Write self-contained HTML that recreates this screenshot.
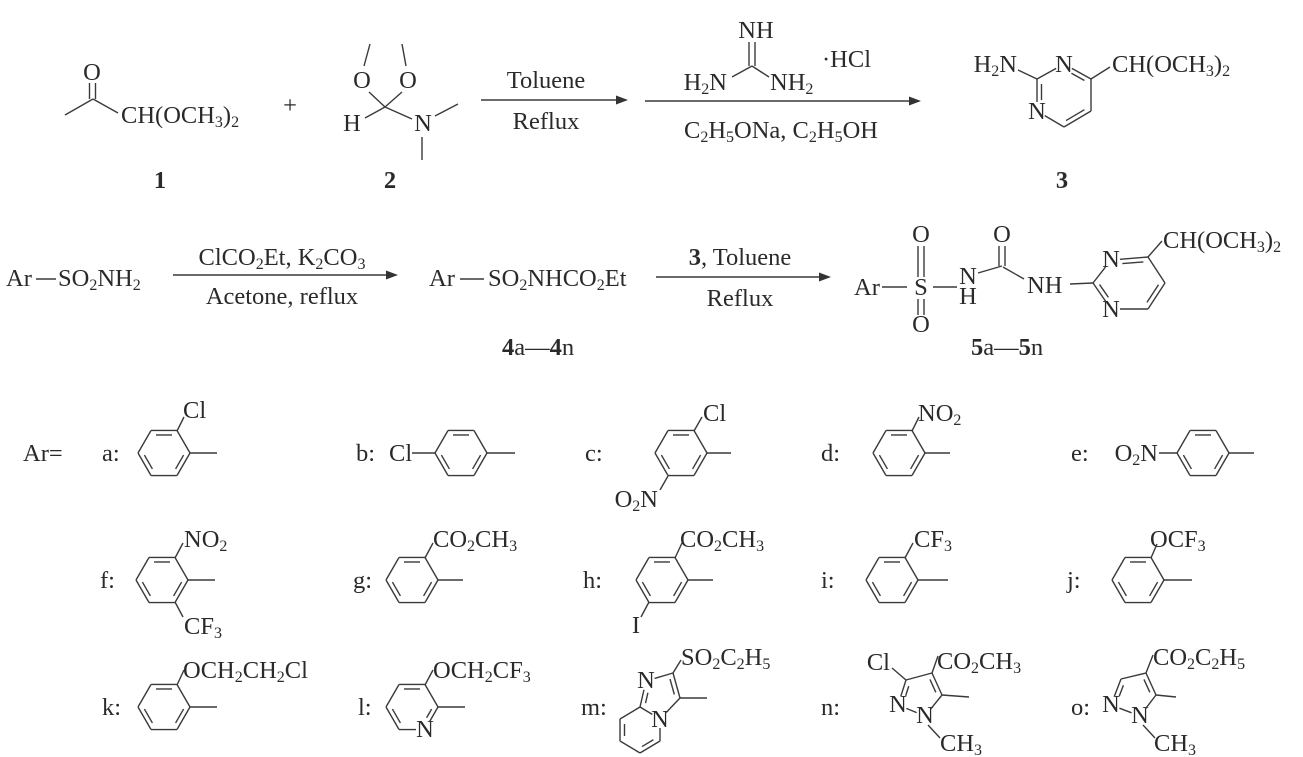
<!DOCTYPE html>
<html><head><meta charset="utf-8">
<style>
html,body{margin:0;padding:0;background:#fff;}
svg{display:block;}
text{font-family:"Liberation Serif",serif;font-size:24.5px;fill:#2a2a2a;}
tspan[font-size]{font-size:16px;}
.b{font-weight:bold;}
line{stroke:#3a3a3a;stroke-width:1.4;}
</style></head>
<body>
<svg id="s" width="1303" height="757" viewBox="0 0 1303 757" xmlns="http://www.w3.org/2000/svg">
<g id="g">
<text x="92" y="80" text-anchor="middle">O</text>
<line x1="89.5" y1="83" x2="89.5" y2="99"/><line x1="95.5" y1="83" x2="95.5" y2="99"/>
<line x1="65" y1="115" x2="93" y2="99"/><line x1="93" y1="99" x2="118" y2="113"/>
<text x="121" y="123">CH(OCH<tspan dy="4" font-size="16">3</tspan><tspan dy="-4">)</tspan><tspan dy="4" font-size="16">2</tspan></text>
<text x="290" y="113" text-anchor="middle">+</text>
<text x="362" y="88" text-anchor="middle">O</text>
<text x="408" y="88" text-anchor="middle">O</text>
<line x1="364" y1="66" x2="370" y2="44"/><line x1="406" y1="66" x2="402" y2="44"/>
<line x1="385" y1="107" x2="369" y2="92"/><line x1="385" y1="107" x2="402" y2="92"/>
<line x1="385" y1="107" x2="365" y2="118"/><line x1="385" y1="107" x2="412" y2="119"/>
<text x="352" y="131" text-anchor="middle">H</text>
<text x="423" y="131" text-anchor="middle">N</text>
<line x1="435" y1="116" x2="458" y2="104"/><line x1="422" y1="137" x2="422" y2="160"/>
<text x="160" y="188" class="b" text-anchor="middle">1</text>
<text x="390" y="188" class="b" text-anchor="middle">2</text>
<line x1="481" y1="100" x2="620" y2="100"/>
<text x="546" y="88" text-anchor="middle">Toluene</text>
<text x="546" y="129" text-anchor="middle">Reflux</text>
<line x1="645" y1="101" x2="913" y2="101"/>
<text x="756" y="38" text-anchor="middle">NH</text>
<line x1="749" y1="42" x2="749" y2="66"/><line x1="755" y1="42" x2="755" y2="66"/>
<line x1="752" y1="66" x2="732" y2="77"/><line x1="752" y1="66" x2="769" y2="77"/>
<text x="727" y="90" text-anchor="end">H<tspan dy="4" font-size="16">2</tspan><tspan dy="-4">N</tspan></text>
<text x="770" y="90">NH<tspan dy="4" font-size="16">2</tspan></text>
<text x="822" y="67">·HCl</text>
<text x="781" y="138" text-anchor="middle">C<tspan dy="4" font-size="16">2</tspan><tspan dy="-4">H</tspan><tspan dy="4" font-size="16">5</tspan><tspan dy="-4">ONa, C</tspan><tspan dy="4" font-size="16">2</tspan><tspan dy="-4">H</tspan><tspan dy="4" font-size="16">5</tspan><tspan dy="-4">OH</tspan></text>
<text x="1017" y="72" text-anchor="end">H<tspan dy="4" font-size="16">2</tspan><tspan dy="-4">N</tspan></text>
<line x1="1018" y1="70" x2="1037" y2="79"/>
<text x="1064" y="72" text-anchor="middle">N</text>
<text x="1037" y="119" text-anchor="middle">N</text>
<line x1="1091" y1="79" x2="1110" y2="67"/>
<text x="1112" y="72">CH(OCH<tspan dy="4" font-size="16">3</tspan><tspan dy="-4">)</tspan><tspan dy="4" font-size="16">2</tspan></text>
<text x="1062" y="188" class="b" text-anchor="middle">3</text>

<text x="6" y="286">Ar</text>
<line x1="36" y1="279" x2="56" y2="279"/>
<text x="58" y="286">SO<tspan dy="4" font-size="16">2</tspan><tspan dy="-4">NH</tspan><tspan dy="4" font-size="16">2</tspan></text>
<line x1="173" y1="275" x2="390" y2="275"/>
<text x="282" y="265" text-anchor="middle">ClCO<tspan dy="4" font-size="16">2</tspan><tspan dy="-4">Et, K</tspan><tspan dy="4" font-size="16">2</tspan><tspan dy="-4">CO</tspan><tspan dy="4" font-size="16">3</tspan></text>
<text x="282" y="304" text-anchor="middle">Acetone, reflux</text>
<text x="429" y="286">Ar</text>
<line x1="460" y1="279" x2="484" y2="279"/>
<text x="488" y="286">SO<tspan dy="4" font-size="16">2</tspan><tspan dy="-4">NHCO</tspan><tspan dy="4" font-size="16">2</tspan><tspan dy="-4">Et</tspan></text>
<text x="502" y="355"><tspan class="b">4</tspan>a—<tspan class="b">4</tspan>n</text>
<line x1="656" y1="277" x2="823" y2="277"/>
<text x="740" y="265" text-anchor="middle"><tspan class="b">3</tspan>, Toluene</text>
<text x="740" y="306" text-anchor="middle">Reflux</text>
<text x="854" y="295">Ar</text>
<line x1="882" y1="287" x2="907" y2="287"/>
<text x="921" y="295" text-anchor="middle">S</text>
<text x="921" y="242" text-anchor="middle">O</text>
<line x1="918" y1="246" x2="918" y2="277"/><line x1="924" y1="246" x2="924" y2="277"/>
<text x="921" y="332" text-anchor="middle">O</text>
<line x1="918" y1="299" x2="918" y2="315"/><line x1="924" y1="299" x2="924" y2="315"/>
<line x1="933" y1="287" x2="957" y2="287"/>
<text x="968" y="284" text-anchor="middle">N</text>
<text x="968" y="304" text-anchor="middle">H</text>
<line x1="978" y1="273" x2="1002" y2="266"/>
<text x="1002" y="242" text-anchor="middle">O</text>
<line x1="999" y1="246" x2="999" y2="266"/><line x1="1005" y1="246" x2="1005" y2="266"/>
<line x1="1003" y1="267" x2="1024" y2="279"/>
<text x="1027" y="293">NH</text>
<line x1="1070" y1="284" x2="1093" y2="283"/>
<text x="1111" y="267" text-anchor="middle">N</text>
<text x="1111" y="317" text-anchor="middle">N</text>
<line x1="1148" y1="257" x2="1162" y2="241"/>
<text x="1163" y="248">CH(OCH<tspan dy="4" font-size="16">3</tspan><tspan dy="-4">)</tspan><tspan dy="4" font-size="16">2</tspan></text>
<text x="971" y="355"><tspan class="b">5</tspan>a—<tspan class="b">5</tspan>n</text>

<text x="23" y="461">Ar=</text>
<text x="102" y="461">a:</text>
<text x="183" y="418">Cl</text>
<line x1="177" y1="431" x2="184" y2="417"/><line x1="190" y1="453" x2="217" y2="453"/>
<text x="356" y="461">b:</text>
<text x="389" y="461">Cl</text>
<line x1="412" y1="453" x2="435" y2="453"/><line x1="487" y1="453" x2="515" y2="453"/>
<text x="585" y="461">c:</text>
<text x="703" y="421">Cl</text>
<line x1="694" y1="431" x2="702" y2="417"/><line x1="707" y1="453" x2="731" y2="453"/>
<line x1="668" y1="476" x2="660" y2="490"/>
<text x="658" y="507" text-anchor="end">O<tspan dy="4" font-size="16">2</tspan><tspan dy="-4">N</tspan></text>
<text x="821" y="461">d:</text>
<line x1="912" y1="431" x2="919" y2="417"/><line x1="925" y1="453" x2="950" y2="453"/>
<text x="918" y="421">NO<tspan dy="4" font-size="16">2</tspan></text>
<text x="1071" y="461">e:</text>
<text x="1158" y="461" text-anchor="end">O<tspan dy="4" font-size="16">2</tspan><tspan dy="-4">N</tspan></text>
<line x1="1159" y1="453" x2="1177" y2="453"/><line x1="1229" y1="453" x2="1254" y2="453"/>

<text x="100" y="588">f:</text>
<line x1="175" y1="558" x2="183" y2="543"/><line x1="188" y1="580" x2="215" y2="580"/>
<text x="184" y="547">NO<tspan dy="4" font-size="16">2</tspan></text>
<line x1="175" y1="602" x2="183" y2="617"/>
<text x="184" y="634">CF<tspan dy="4" font-size="16">3</tspan></text>
<text x="353" y="588">g:</text>
<line x1="425" y1="558" x2="433" y2="543"/><line x1="438" y1="580" x2="463" y2="580"/>
<text x="433" y="547">CO<tspan dy="4" font-size="16">2</tspan><tspan dy="-4">CH</tspan><tspan dy="4" font-size="16">3</tspan></text>
<text x="583" y="588">h:</text>
<line x1="675" y1="558" x2="682" y2="543"/><line x1="688" y1="580" x2="713" y2="580"/>
<text x="680" y="547">CO<tspan dy="4" font-size="16">2</tspan><tspan dy="-4">CH</tspan><tspan dy="4" font-size="16">3</tspan></text>
<line x1="649" y1="602" x2="641" y2="617"/>
<text x="636" y="633" text-anchor="middle">I</text>
<text x="821" y="588">i:</text>
<line x1="905" y1="558" x2="913" y2="543"/><line x1="918" y1="580" x2="948" y2="580"/>
<text x="914" y="547">CF<tspan dy="4" font-size="16">3</tspan></text>
<text x="1067" y="588">j:</text>
<line x1="1151" y1="558" x2="1157" y2="544"/><line x1="1164" y1="580" x2="1192" y2="580"/>
<text x="1150" y="547">OCF<tspan dy="4" font-size="16">3</tspan></text>

<text x="102" y="715">k:</text>
<line x1="177" y1="685" x2="184" y2="670"/><line x1="190" y1="707" x2="217" y2="707"/>
<text x="183" y="678">OCH<tspan dy="4" font-size="16">2</tspan><tspan dy="-4">CH</tspan><tspan dy="4" font-size="16">2</tspan><tspan dy="-4">Cl</tspan></text>
<text x="358" y="715">l:</text>
<line x1="425" y1="685" x2="433" y2="670"/><line x1="438" y1="707" x2="465" y2="707"/>
<text x="433" y="678">OCH<tspan dy="4" font-size="16">2</tspan><tspan dy="-4">CF</tspan><tspan dy="4" font-size="16">3</tspan></text>
<text x="425" y="737" text-anchor="middle">N</text>
<text x="581" y="715">m:</text>
<text x="646" y="688" text-anchor="middle">N</text>
<text x="660" y="727" text-anchor="middle">N</text>
<line x1="673" y1="673" x2="681" y2="660"/><line x1="680" y1="698" x2="707" y2="698"/>
<text x="681" y="665">SO<tspan dy="4" font-size="16">2</tspan><tspan dy="-4">C</tspan><tspan dy="4" font-size="16">2</tspan><tspan dy="-4">H</tspan><tspan dy="4" font-size="16">5</tspan></text>
<text x="821" y="715">n:</text>
<text x="890" y="670" text-anchor="end">Cl</text>
<line x1="906" y1="680" x2="892" y2="668"/>
<line x1="932" y1="673" x2="938" y2="656"/>
<text x="937" y="669">CO<tspan dy="4" font-size="16">2</tspan><tspan dy="-4">CH</tspan><tspan dy="4" font-size="16">3</tspan></text>
<line x1="942" y1="695" x2="969" y2="697"/>
<text x="898" y="712" text-anchor="middle">N</text>
<text x="925" y="723" text-anchor="middle">N</text>
<line x1="928" y1="725" x2="940" y2="738"/>
<text x="940" y="751">CH<tspan dy="4" font-size="16">3</tspan></text>
<text x="1071" y="715">o:</text>
<line x1="1146" y1="673" x2="1153" y2="655"/>
<text x="1153" y="665">CO<tspan dy="4" font-size="16">2</tspan><tspan dy="-4">C</tspan><tspan dy="4" font-size="16">2</tspan><tspan dy="-4">H</tspan><tspan dy="4" font-size="16">5</tspan></text>
<line x1="1156" y1="695" x2="1176" y2="697"/>
<text x="1111" y="712" text-anchor="middle">N</text>
<text x="1140" y="723" text-anchor="middle">N</text>
<line x1="1143" y1="725" x2="1155" y2="738"/>
<text x="1154" y="751">CH<tspan dy="4" font-size="16">3</tspan></text>

<polygon points="628,100 616,95.5 616,104.5" fill="#333"/>
<polygon points="921,101 909,96.5 909,105.5" fill="#333"/>
<polygon points="398,275 386,270.5 386,279.5" fill="#333"/>
<polygon points="831,277 819,272.5 819,281.5" fill="#333"/>
</g>
</svg>
<script>
var g=document.getElementById('g'),NS='http://www.w3.org/2000/svg';
function L(x1,y1,x2,y2){var l=document.createElementNS(NS,'line');l.setAttribute('x1',x1);l.setAttribute('y1',y1);l.setAttribute('x2',x2);l.setAttribute('y2',y2);g.appendChild(l);}
function poly(p,dbl,trim,skip){
  var n=p.length,cx=0,cy=0;trim=trim||[];skip=skip||[];
  p.forEach(function(q){cx+=q[0];cy+=q[1];});cx/=n;cy/=n;
  for(var i=0;i<n;i++){
    if(skip.indexOf(i)>=0)continue;
    var a=p[i],b=p[(i+1)%n],dx=b[0]-a[0],dy=b[1]-a[1],len=Math.hypot(dx,dy),ux=dx/len,uy=dy/len;
    var ta=trim[i]||0,tb=trim[(i+1)%n]||0;
    L(a[0]+ux*ta,a[1]+uy*ta,b[0]-ux*tb,b[1]-uy*tb);
    if(dbl.indexOf(i)>=0){
      var nx=-uy,ny=ux,mx=(a[0]+b[0])/2,my=(a[1]+b[1])/2;
      if((cx-mx)*nx+(cy-my)*ny<0){nx=-nx;ny=-ny;}
      var o=4.5,s1=Math.max(5,ta+2),s2=Math.max(5,tb+2);
      L(a[0]+nx*o+ux*s1,a[1]+ny*o+uy*s1,b[0]+nx*o-ux*s2,b[1]+ny*o-uy*s2);
    }
  }
}
function hex(cx,cy,r,dbl,trim){
  var h=r*0.866;
  poly([[cx+r,cy],[cx+r/2,cy-h],[cx-r/2,cy-h],[cx-r,cy],[cx-r/2,cy+h],[cx+r/2,cy+h]],dbl||[1,3,5],trim);
}
poly([[1064,64],[1091,79],[1091,111],[1064,127],[1037,111],[1037,79]],[0,2,4],[9,0,0,0,9,0]);
poly([[1093,283],[1111,260],[1148,257],[1165,283],[1148,309],[1111,309]],[1,3,5],[0,9,0,0,0,9]);
hex(164,453,26);hex(461,453,26);hex(681,453,26);hex(899,453,26);hex(1203,453,26);
hex(162,580,26);hex(412,580,26);hex(662,580,26);hex(892,580,26);hex(1138,580,26);
hex(164,707,26);
hex(412,707,26,[1,3,5],[0,0,0,0,0,9]);
poly([[640,707],[646,681],[673,673],[680,698],[660,719]],[0,2],[0,9,0,0,9]);
poly([[640,707],[660,719],[660,741],[640,753],[620,741],[620,719]],[2,4],[0,9,0,0,0,0],[0]);
poly([[1121,679],[1146,673],[1156,695],[1140,716],[1111,705]],[1,4],[0,0,0,9,9]);
poly([[906,680],[932,673],[942,695],[925,716],[898,705]],[1,4],[0,0,0,9,9]);
</script>
</body></html>
